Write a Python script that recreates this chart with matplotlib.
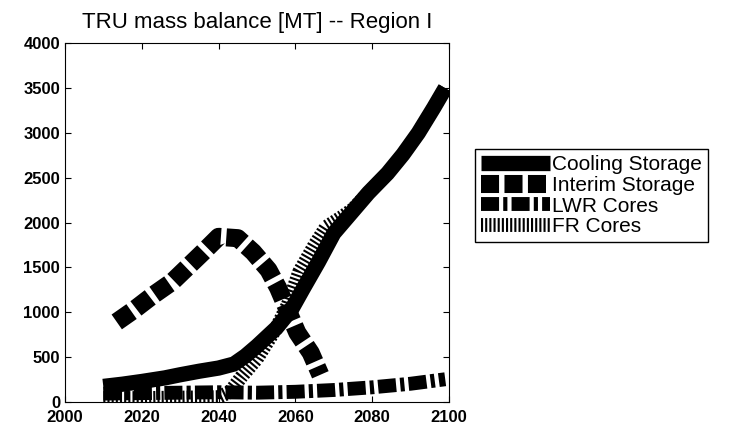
import matplotlib.pyplot as plt

plt.rcParams['font.family'] = ['Liberation Sans', 'DejaVu Sans']

# Cooling Storage (thick solid)
yr_cool = [2010, 2015, 2020, 2026, 2030, 2035, 2040, 2044, 2047, 2050, 2055, 2059, 2062, 2066, 2070, 2075, 2079, 2084, 2088, 2092, 2096, 2099]
cool = [170, 195, 225, 265, 300, 340, 375, 420, 510, 620, 820, 1030, 1260, 1560, 1880, 2130, 2330, 2550, 2760, 3000, 3280, 3500]

# Interim Storage (square dashes)
yr_int = [2013.5, 2018, 2023, 2028, 2032, 2036, 2040, 2045, 2049, 2053, 2055.5, 2058, 2060.5, 2064, 2066.5]
interim = [890, 1025, 1190, 1340, 1505, 1670, 1840, 1825, 1670, 1470, 1270, 1020, 770, 545, 300]

# LWR Cores (dash-dot)
yr_lwr = [2010, 2020, 2030, 2040, 2050, 2060, 2070, 2080, 2090, 2099]
lwr = [90, 95, 100, 105, 100, 110, 130, 160, 200, 250]

# FR Cores (dense hatch)
yr_fr = [2010, 2020, 2030, 2040, 2043, 2046, 2050, 2055, 2058, 2061, 2065, 2068, 2072, 2075, 2079, 2084, 2088, 2092, 2096, 2099]
fr = [40, 40, 45, 50, 110, 280, 480, 820, 1080, 1450, 1750, 1950, 2060, 2150, 2330, 2550, 2760, 3000, 3280, 3500]

fig = plt.figure(figsize=(7.29, 4.38), dpi=100)
ax = fig.add_axes([0.089, 0.083, 0.527, 0.818])

ax.plot(yr_lwr, lwr, color='black', lw=10, linestyle=(0, (1.3, 0.3, 0.3, 0.3)), label='LWR Cores', zorder=2)
ax.plot(yr_fr, fr, color='black', lw=10, linestyle=(0, (0.15, 0.15)), label='FR Cores', zorder=3)
ax.plot(yr_cool, cool, color='black', lw=11, solid_capstyle='butt', label='Cooling Storage', zorder=4)
ax.plot(yr_int, interim, color='black', lw=13, linestyle=(0, (1.0, 0.3)), label='Interim Storage', zorder=5)

ax.set_xlim(2000, 2100)
ax.set_ylim(0, 4000)
ax.set_xticks(range(2000, 2101, 20))
ax.set_yticks(range(0, 4001, 500))
ax.tick_params(direction='in', top=True, right=True, labelsize=12, length=4)
ax.tick_params(axis='x', pad=6)
for lab in ax.get_xticklabels() + ax.get_yticklabels():
    lab.set_fontweight('bold')
ax.set_title('TRU mass balance [MT] -- Region I', fontsize=16, pad=11)

h, l = ax.get_legend_handles_labels()
order = [2, 3, 0, 1]
fig.legend([h[i] for i in order], [l[i] for i in order],
           loc='upper left', bbox_to_anchor=(0.651, 0.66), fontsize=15,
           handlelength=3.3, handletextpad=0.1, labelspacing=0.08,
           fancybox=False, edgecolor='black', framealpha=1, borderpad=0.3,
           borderaxespad=0)

fig.savefig('out.png', dpi=100)
